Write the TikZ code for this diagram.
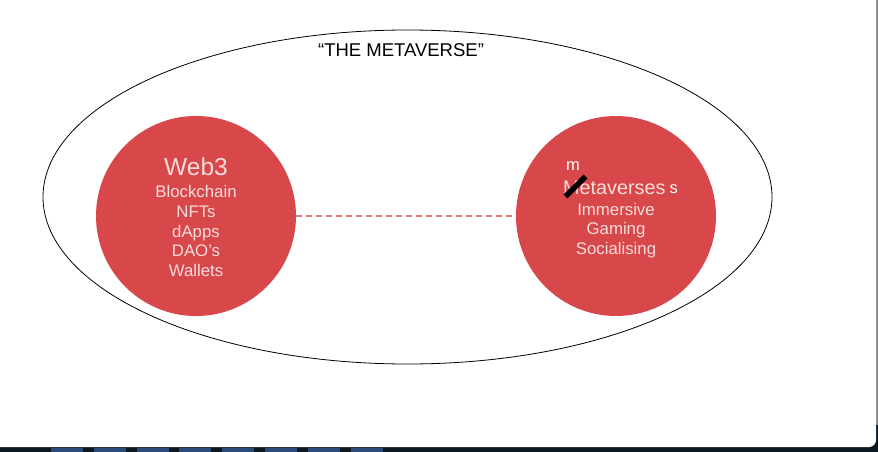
\documentclass[tikz,border=0pt]{standalone}
\usepackage{fontspec}
\setmainfont{Liberation Sans}
\usetikzlibrary{shapes.geometric}
\begin{document}
\definecolor{bubble}{HTML}{D8474A}
\definecolor{bubbletext}{HTML}{F7DCDC}
\definecolor{link}{HTML}{E8797B}
\definecolor{frame}{HTML}{0E1822}
\definecolor{tab}{HTML}{2B4C7A}
\begin{tikzpicture}[x=1pt,y=-1pt,
  bubble/.style={circle,fill=bubble,minimum size=200pt,inner sep=0pt},
  label/.style={text=bubbletext,align=center,font=\fontsize{16.8}{19.7}\selectfont},
  heading/.style={text=bubbletext,font=\fontsize{24.5}{26}\selectfont}]
  % window frame and task bar
  \fill[frame] (0,0) rectangle (878,452);
  \fill[gray!95] (875.5,0) rectangle (878,425);
  \foreach \x in {51,94,137,179,222,265,308,351}
    \fill[tab] (\x,448) rectangle ++(32,4);
  \fill[white] (0,0) -- (876,0) -- (876,440) arc[start angle=0,end angle=90,radius=7] -- (0,447) -- cycle;
  \useasboundingbox (0,0) rectangle (878,452);

  % outer ellipse
  \node[draw,ellipse,minimum width=729pt,minimum height=334pt,inner sep=0pt,line width=0.8pt] (world) at (407.5,197) {};
  \node[font=\fontsize{18.5}{20}\selectfont] (title) at (401,50) {“THE METAVERSE”};

  % the two bubbles
  \node[bubble] (web3) at (196,216) {};
  \node[bubble] (meta) at (616,216) {};
  \draw[link,line width=1.2pt,dash pattern=on 6pt off 4pt] (web3.east) -- (meta.west);

  \node[heading] (w3title) at (196,167) {Web3};
  \node[label,anchor=north] (w3list) at (196,182) {Blockchain\\NFTs\\dApps\\DAO’s\\Wallets};

  \node[text=bubbletext,font=\fontsize{19.8}{22}\selectfont,anchor=west,inner sep=0pt] (mtitle) at (563,188) {Metaverses};
  \node[text=white,font=\fontsize{16.5}{18}\selectfont,anchor=west,inner sep=0pt] (msuffix) at (669.5,189) {s};
  \node[text=white,font=\fontsize{16.5}{18}\selectfont] (mletter) at (573,166) {m};
  \draw[black,line width=5.5pt] (565.5,196.5) -- (585.5,176.5);
  \node[label,anchor=north] (mlist) at (616,199.5) {Immersive\\Gaming\\Socialising};
\end{tikzpicture}
\end{document}
